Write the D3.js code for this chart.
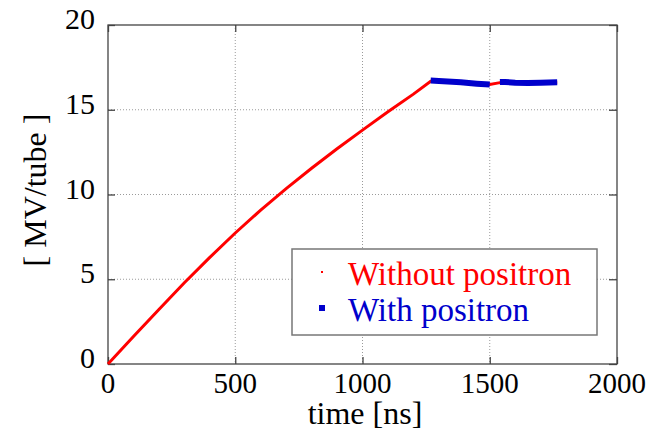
<!DOCTYPE html>
<html>
<head>
<meta charset="utf-8">
<script src="https://cdn.jsdelivr.net/npm/d3@7"></script>
</head>
<body style="margin:0">
<script>
// time [ns] and voltage [MV/tube]
const timeNoPos = [0, 100, 200, 300, 400, 500, 600, 700, 800, 900, 1000, 1100, 1200, 1268, 1300, 1400, 1500, 1540, 1600, 1700, 1765];
const voltNoPos = [0, 1.62, 3.22, 4.79, 6.29, 7.73, 9.08, 10.35, 11.55, 12.7, 13.8, 14.88, 15.92, 16.68, 16.68, 16.6, 16.49, 16.6, 16.6, 16.6, 16.62];

// with positron: two pieces with a gap
const timePos1 = [1268, 1300, 1386, 1449, 1500];
const voltPos1 = [16.72, 16.7, 16.62, 16.54, 16.49];
const timePos2 = [1540, 1560, 1600, 1650, 1700, 1765];
const voltPos2 = [16.63, 16.64, 16.6, 16.58, 16.59, 16.62];

const xTicks = [0, 500, 1000, 1500, 2000];
const yTicks = [0, 5, 10, 15, 20];
const legendLabels = ["Without positron", "With positron"];

const width = 668;
const height = 432;
const mLeft = 108, mRight = 617, mTop = 25, mBottom = 364;
const fontName = "Times New Roman, Liberation Serif, serif";

const svg = d3.select("body")
  .append("svg")
  .attr("width", width)
  .attr("height", height)
  .attr("font-family", fontName);

const x = d3.scaleLinear().domain([0, 2000]).range([mLeft, mRight]);
const y = d3.scaleLinear().domain([0, 20]).range([mBottom, mTop]);

//grid lines
const grid = svg.append("g")
  .attr("stroke", "#9a9a9a")
  .attr("stroke-width", 1)
  .attr("stroke-dasharray", "1,2");
grid.selectAll(".gx")
  .data(xTicks.slice(1, -1))
  .join("line")
  .attr("class", "gx")
  .attr("x1", d => x(d)).attr("x2", d => x(d))
  .attr("y1", mTop).attr("y2", mBottom);
grid.selectAll(".gy")
  .data(yTicks.slice(1, -1))
  .join("line")
  .attr("class", "gy")
  .attr("x1", mLeft).attr("x2", mRight)
  .attr("y1", d => y(d)).attr("y2", d => y(d));

//axes with inward ticks, tick lines only
const axisStyle = g => {
  g.attr("font-family", null).attr("font-size", null);
  g.select(".domain").remove();
  g.selectAll(".tick line").attr("stroke", "#444").attr("stroke-width", 1.3);
  g.selectAll(".tick text").remove();
};
svg.append("g")
  .attr("transform", `translate(0,${mBottom})`)
  .call(d3.axisBottom(x).tickValues(xTicks).tickSizeInner(-7).tickSizeOuter(0))
  .call(axisStyle);
svg.append("g")
  .attr("transform", `translate(0,${mTop})`)
  .call(d3.axisTop(x).tickValues(xTicks).tickSizeInner(-7).tickSizeOuter(0))
  .call(axisStyle);
svg.append("g")
  .attr("transform", `translate(${mLeft},0)`)
  .call(d3.axisLeft(y).tickValues(yTicks).tickSizeInner(-7).tickSizeOuter(0))
  .call(axisStyle);
svg.append("g")
  .attr("transform", `translate(${mRight},0)`)
  .call(d3.axisRight(y).tickValues(yTicks).tickSizeInner(-8).tickSizeOuter(0))
  .call(axisStyle);

//tick labels placed with the scales
svg.selectAll(".xlab")
  .data(xTicks)
  .join("text")
  .attr("class", "xlab")
  .attr("x", d => x(d))
  .attr("y", mBottom + 29)
  .attr("text-anchor", "middle")
  .attr("font-family", fontName)
  .attr("font-size", 29)
  .text(d => d);
svg.selectAll(".ylab")
  .data(yTicks)
  .join("text")
  .attr("class", "ylab")
  .attr("x", mLeft - 13)
  .attr("y", d => y(d) + 4)
  .attr("text-anchor", "end")
  .attr("font-family", fontName)
  .attr("font-size", 30)
  .text(d => d);

//frame
svg.append("rect")
  .attr("x", mLeft).attr("y", mTop)
  .attr("width", mRight - mLeft).attr("height", mBottom - mTop)
  .attr("fill", "none")
  .attr("stroke", "#444")
  .attr("stroke-width", 1.3);

//lines
const line = d3.line().x(d => x(d[0])).y(d => y(d[1]));

svg.append("path")
  .datum(d3.zip(timeNoPos, voltNoPos))
  .attr("fill", "none")
  .attr("stroke", "#ff0000")
  .attr("stroke-width", 3)
  .attr("d", line);

[d3.zip(timePos1, voltPos1), d3.zip(timePos2, voltPos2)].forEach(seg => {
  svg.append("path")
    .datum(seg)
    .attr("fill", "none")
    .attr("stroke", "#0000cc")
    .attr("stroke-width", 6)
    .attr("d", line);
});

//legend
const legend = svg.append("g");
legend.append("rect")
  .attr("x", 292).attr("y", 249)
  .attr("width", 305).attr("height", 86)
  .attr("fill", "#fff")
  .attr("stroke", "#777")
  .attr("stroke-width", 1.5);
legend.append("rect")
  .attr("x", 321).attr("y", 271)
  .attr("width", 2).attr("height", 2)
  .attr("fill", "#ff0000");
legend.append("rect")
  .attr("x", 319).attr("y", 305)
  .attr("width", 6).attr("height", 6)
  .attr("fill", "#0000cc");
legend.selectAll("text")
  .data(legendLabels)
  .join("text")
  .attr("x", 348)
  .attr("y", (d, i) => 285 + i * 36)
  .attr("fill", (d, i) => i === 0 ? "#ff0000" : "#0000cc")
  .attr("font-family", fontName)
  .attr("font-size", 33)
  .text(d => d);

//axis titles
svg.append("text")
  .attr("x", 365)
  .attr("y", 424)
  .attr("text-anchor", "middle")
  .attr("font-family", fontName)
  .attr("font-size", 32)
  .text("time [ns]");
svg.append("text")
  .attr("transform", `translate(46,190) rotate(-90)`)
  .attr("text-anchor", "middle")
  .attr("font-family", fontName)
  .attr("font-size", 32)
  .text("[ MV/tube ]");
</script>
</body>
</html>
